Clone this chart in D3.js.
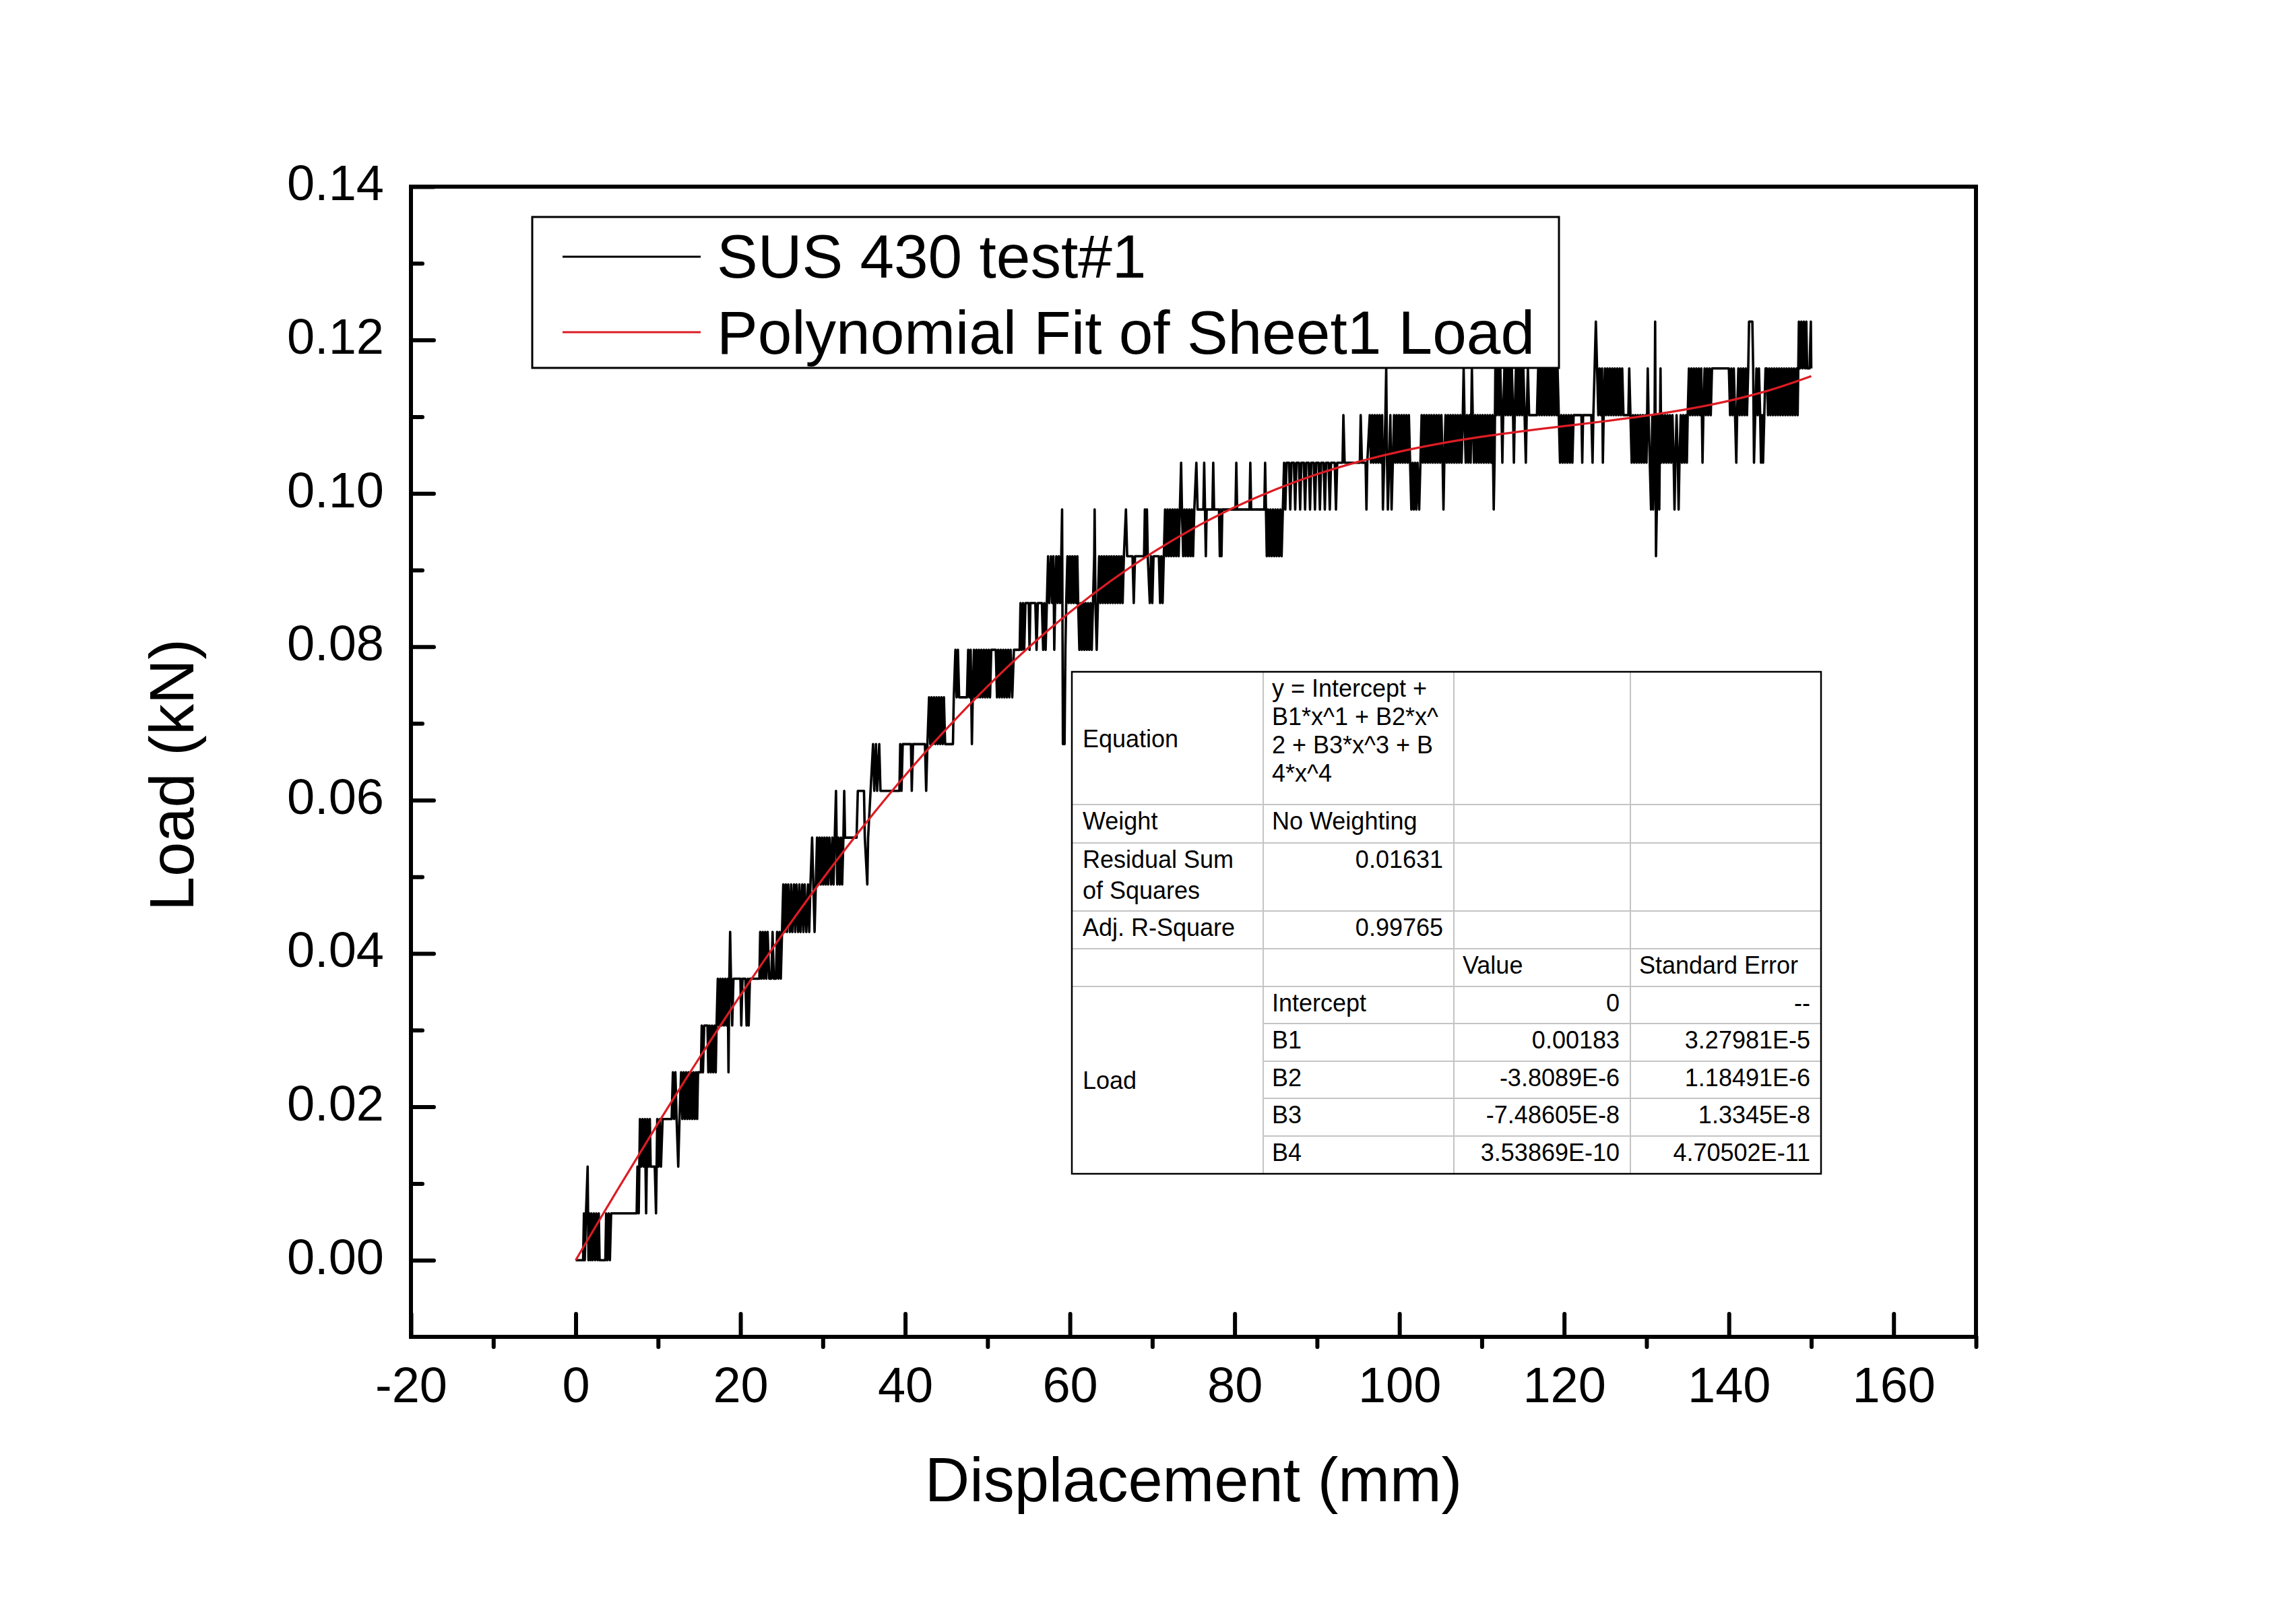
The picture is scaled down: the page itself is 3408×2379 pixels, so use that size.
<!DOCTYPE html>
<html><head><meta charset="utf-8">
<script src="https://cdn.jsdelivr.net/npm/d3@7"></script>
<style>html,body{margin:0;padding:0;background:#fff;}svg{display:block;}</style>
</head><body>
<svg id="chart" width="3408" height="2379"></svg>
<script>
// ---------------- data ----------------
const xDomain = [-20, 170];
const yDomain = [-0.01, 0.14];
const xMajorTicks = [-20, 0, 20, 40, 60, 80, 100, 120, 140, 160];
const xMinorTicks = [-10, 10, 30, 50, 70, 90, 110, 130, 150, 170];
const yMajorTicks = [0, 0.02, 0.04, 0.06, 0.08, 0.10, 0.12, 0.14];
const yMinorTicks = [0.01, 0.03, 0.05, 0.07, 0.09, 0.11, 0.13];
const xTitle = "Displacement (mm)";
const yTitle = "Load (kN)";
const legendLabels = ["SUS 430 test#1", "Polynomial Fit of Sheet1 Load"];

// polynomial fit curve (displacement mm, load kN)
const fitDisp = [0,5,10,15,20,25,30,35,40,45,50,55,60,65,70,75,80,85,90,95,100,105,110,115,120,125,130,135,140,145,150];
const fitLoad = [0,0.009046,0.017848,0.026358,0.034534,0.042338,0.049737,0.056706,0.063221,0.069266,0.074832,0.079911,0.084504,0.088616,0.092256,0.095440,0.098189,0.100529,0.102492,0.104114,0.105437,0.106510,0.107383,0.108116,0.108771,0.109418,0.110130,0.110986,0.112071,0.113474,0.115292];

// measured trace "SUS 430 test#1": [displacement mm, load N]
const loadTrace = [
[0,0],[0.9,0],[1.0,6.1],[1.1,0],[1.25,6.1],[1.45,12.2],[1.55,0],[1.65,6.1],[1.8,0],[1.9,6.1],[2.05,0],[2.2,6.1],[2.35,0],[2.5,6.1],[2.65,0],[2.8,6.1],[2.9,0],[3.6,0],[3.7,6.1],[3.85,0],[4.0,6.1],[4.15,0],[4.3,6.1],[7.4,6.1],
[7.5,12.2],[7.65,6.1],[7.8,18.4],[7.95,12.2],[8.1,18.4],[8.25,12.2],[8.4,18.4],[8.55,6.1],[8.7,18.4],[8.85,12.2],[9.0,18.4],[9.1,12.2],[9.6,12.2],[9.75,6.1],[9.9,18.4],[10.05,12.2],[10.2,18.4],[10.35,12.2],[10.55,18.4],[11.65,18.4],
[11.8,24.5],[11.95,18.4],[12.1,24.5],[12.25,18.4],[12.45,12.2],[12.6,18.4],[12.8,24.5],[12.95,18.4],[13.1,24.5],[13.25,18.4],[13.4,24.5],[13.55,18.4],[13.7,24.5],[13.85,18.4],[14.0,24.5],[14.15,18.4],[14.3,24.5],[14.45,18.4],[14.6,24.5],[14.75,18.4],[14.85,24.5],[15.2,24.5],
[15.3,30.6],[15.45,24.5],[15.6,30.6],[16.0,30.6],[16.1,24.5],[16.25,30.6],[16.4,24.5],[16.55,30.6],[16.7,24.5],[16.85,30.6],[17.0,24.5],[17.1,30.6],
[17.25,36.7],[17.4,30.6],[17.55,36.7],[17.7,30.6],[17.85,36.7],[18.0,30.6],[18.15,36.7],[18.3,30.6],[18.45,36.7],[18.55,24.5],[18.65,36.7],[18.75,42.8],[18.85,36.7],[19.0,30.6],[19.15,36.7],[20.0,36.7],
[20.1,30.6],[20.25,36.7],[20.6,36.7],[20.75,30.6],[20.9,36.7],[21.0,30.6],[21.15,36.7],[22.3,36.7],
[22.4,42.8],[22.55,36.7],[22.7,42.8],[22.85,36.7],[23.0,42.8],[23.15,36.7],[23.3,42.8],[23.5,36.7],[23.75,36.7],[23.9,42.8],[24.05,36.7],[24.3,36.7],[24.45,42.8],[24.6,36.7],[24.75,42.8],[24.9,36.7],[25.05,42.8],
[25.2,49],[25.35,42.8],[25.5,49],[25.65,42.8],[25.8,49],[26.0,42.8],[26.15,49],[26.3,42.8],[26.5,49],[26.65,42.8],[26.8,49],[27.0,42.8],[27.15,49],[27.3,42.8],[27.5,49],[27.65,42.8],[27.8,49],[28.0,42.8],[28.2,49],[28.35,42.8],[28.5,49],
[28.7,55.1],[28.85,49],[29.0,42.8],[29.15,49],[29.3,55.1],[29.45,49],[29.6,55.1],[29.75,49],[29.9,55.1],[30.05,49],[30.2,55.1],[30.35,49],[30.5,55.1],[30.65,49],[30.8,55.1],[31.0,49],[31.15,55.1],[31.3,49],[31.45,55.1],[31.6,61.2],[31.75,49],[31.9,55.1],[32.05,49],[32.2,55.1],[32.35,49],[32.5,55.1],[32.6,61.2],[32.7,55.1],[34.1,55.1],
[34.25,61.2],[35.0,61.2],[35.1,55.1],[35.4,49],[35.5,55.1],[35.8,61.2],[36.1,67.3],[36.25,61.2],[36.45,67.3],[36.6,61.2],[36.85,67.3],[37.0,61.2],[39.3,61.2],
[39.4,67.3],[39.55,61.2],[39.7,67.3],[40.7,67.3],[40.8,61.2],[40.95,67.3],[42.4,67.3],[42.55,61.2],[42.7,67.3],
[42.9,73.4],[43.05,67.3],[43.2,73.4],[43.35,67.3],[43.5,73.4],[43.65,67.3],[43.8,73.4],[43.95,67.3],[44.1,73.4],[44.25,67.3],[44.4,73.4],[44.55,67.3],[44.7,73.4],[44.85,67.3],[45.8,67.3],[45.9,73.4],
[46.1,79.6],[46.25,73.4],[46.4,79.6],[46.55,73.4],[47.5,73.4],[47.65,79.6],[47.8,73.4],[47.95,79.6],[48.1,67.3],[48.2,73.4],[48.35,79.6],[48.5,73.4],[48.65,79.6],[48.8,73.4],[48.95,79.6],[49.1,73.4],[49.25,79.6],[49.4,73.4],[49.55,79.6],[49.7,73.4],[49.85,79.6],[50.0,73.4],[50.15,79.6],[50.3,73.4],[50.45,79.6],[51.0,79.6],[51.15,73.4],[51.3,79.6],[51.45,73.4],[51.6,79.6],[51.75,73.4],[51.9,79.6],[52.05,73.4],[52.2,79.6],[52.35,73.4],[52.5,79.6],[52.65,73.4],[52.8,79.6],[53.0,73.4],[53.2,79.6],[53.9,79.6],
[54.0,85.7],[54.15,79.6],[54.3,85.7],[54.45,79.6],[54.6,85.7],[55.0,85.7],[55.1,79.6],[55.2,85.7],[55.8,85.7],[55.95,79.6],[56.1,85.7],[56.6,85.7],[56.75,79.6],[56.9,85.7],[57.05,79.6],[57.2,85.7],[57.35,91.8],[57.5,85.7],
[57.7,91.8],[57.85,85.7],[58.0,91.8],[58.1,79.6],[58.2,85.7],[58.35,91.8],[58.5,85.7],[58.65,91.8],[58.8,85.7],[58.95,91.8],[59.05,97.9],[59.15,67.3],[59.25,73.4],[59.35,67.3],[59.45,79.6],[59.55,85.7],
[59.7,91.8],[59.85,85.7],[60.0,91.8],[60.15,85.7],[60.3,91.8],[60.45,85.7],[60.6,91.8],[60.75,85.7],[60.9,91.8],[61.0,85.7],
[61.15,79.6],[61.3,85.7],[61.45,79.6],[61.6,85.7],[61.75,79.6],[61.9,85.7],[62.05,79.6],[62.2,85.7],[62.35,79.6],[62.5,85.7],[62.65,79.6],[62.8,85.7],[62.95,91.8],[63.0,97.9],[63.1,85.7],[63.25,79.6],[63.4,85.7],
[63.55,91.8],[63.7,85.7],[63.85,91.8],[64.0,85.7],[64.15,91.8],[64.3,85.7],[64.45,91.8],[64.6,85.7],[64.75,91.8],[64.9,85.7],[65.05,91.8],[65.2,85.7],[65.35,91.8],[65.5,85.7],[65.65,91.8],[65.8,85.7],[65.95,91.8],[66.1,85.7],[66.25,91.8],[66.4,85.7],[66.55,91.8],[66.8,97.9],[66.95,91.8],
[67.6,91.8],[67.75,85.7],[67.9,91.8],[69.0,91.8],[69.1,97.9],[69.2,91.8],[69.35,97.9],[69.45,91.8],
[69.7,85.7],[69.85,91.8],[70.0,85.7],[70.15,91.8],[70.8,91.8],[70.95,85.7],[71.1,91.8],[71.25,85.7],[71.4,91.8],
[71.55,97.9],[71.7,91.8],[71.85,97.9],[72.0,91.8],[72.15,97.9],[72.3,91.8],[72.45,97.9],[72.6,91.8],[72.75,97.9],[72.9,91.8],[73.05,97.9],[73.2,91.8],[73.35,97.9],[73.5,104],[73.6,97.9],[73.75,91.8],[73.9,97.9],[74.05,91.8],[74.2,97.9],[74.35,91.8],[74.5,97.9],[74.65,91.8],[74.8,97.9],[74.95,91.8],[75.1,97.9],
[75.35,104],[75.5,97.9],[76.2,97.9],[76.3,104],[76.4,97.9],[76.5,91.8],[76.6,97.9],[77.3,97.9],[77.4,104],[77.5,97.9],[78.1,97.9],[78.2,91.8],[78.3,97.9],[78.4,91.8],[78.5,97.9],
[80.1,97.9],[80.2,104],[80.3,97.9],[81.8,97.9],[81.9,104],[82.0,97.9],[83.6,97.9],[83.7,104],[83.8,97.9],
[83.9,91.8],[84.05,97.9],[84.2,91.8],[84.35,97.9],[84.5,91.8],[84.65,97.9],[84.8,91.8],[84.95,97.9],[85.1,91.8],[85.25,97.9],[85.4,91.8],[85.55,97.9],[85.7,91.8],[85.85,97.9],
[86.0,104],[86.15,97.9],[86.3,104],[86.6,104],[86.75,97.9],[86.9,104],[87.2,104],[87.35,97.9],[87.5,104],[87.8,104],[87.95,97.9],[88.1,104],[88.4,104],[88.55,97.9],[88.7,104],[89.0,104],[89.15,97.9],[89.3,104],[89.6,104],[89.75,97.9],[89.9,104],[90.2,104],[90.35,97.9],[90.5,104],[90.8,104],[90.95,97.9],[91.1,104],[91.4,104],[91.55,97.9],[91.7,104],[92.15,104],[92.3,97.9],[92.45,104],
[93.1,104],[93.2,110.2],[93.35,104],[95.2,104],[95.3,110.2],[95.45,104],[95.9,104],[96.0,97.9],[96.1,104],
[96.4,110.2],[96.55,104],[96.7,110.2],[96.85,104],[97.0,110.2],[97.15,104],[97.3,110.2],[97.45,104],[97.6,110.2],[97.75,104],[97.9,110.2],
[98.0,97.9],[98.15,104],[98.3,110.2],[98.4,116.3],[98.5,104],[98.6,97.9],[98.75,104],[98.9,110.2],[99.05,97.9],[99.2,104],[99.35,110.2],
[99.5,104],[99.65,110.2],[99.8,104],[99.95,110.2],[100.1,104],[100.25,110.2],[100.4,104],[100.55,110.2],[100.7,104],[100.85,110.2],[101.0,104],[101.15,110.2],[101.3,104],
[101.45,97.9],[101.6,104],[101.75,97.9],[101.9,104],[102.05,97.9],[102.2,104],[102.4,97.9],[102.55,104],
[102.7,110.2],[102.85,104],[103.0,110.2],[103.15,104],[103.3,110.2],[103.45,104],[103.6,110.2],[103.75,104],[103.9,110.2],[104.05,104],[104.2,110.2],[104.35,104],[104.5,110.2],[104.65,104],[104.8,110.2],[104.95,104],[105.1,110.2],[105.25,104],[105.35,97.9],[105.45,104],
[105.6,110.2],[105.75,104],[105.9,110.2],[106.05,104],[106.2,110.2],[106.35,104],[106.5,110.2],[106.65,104],[106.8,110.2],[106.95,104],[107.1,110.2],[107.25,104],[107.4,110.2],[107.55,104],[107.7,110.2],[107.8,116.3],[107.9,110.2],
[108.05,104],[108.2,110.2],[108.35,104],[108.5,110.2],[108.65,104],[108.8,116.3],[108.9,110.2],[109.05,104],[109.2,110.2],[109.35,104],[109.5,110.2],[109.65,104],[109.8,110.2],[109.95,104],[110.1,110.2],[110.25,104],[110.4,110.2],[110.55,104],[110.7,110.2],[110.85,104],[111.0,110.2],[111.15,104],[111.3,110.2],[111.45,97.9],[111.55,104],
[111.65,116.3],[111.8,110.2],[111.95,116.3],[112.1,110.2],[112.25,116.3],[112.4,110.2],[112.5,104],[112.6,110.2],[112.75,116.3],[112.9,110.2],[113.05,116.3],[113.2,110.2],[113.35,116.3],[113.5,110.2],[113.65,116.3],[113.8,110.2],[113.9,104],[114.0,110.2],[114.15,116.3],[114.3,110.2],[114.45,116.3],[114.6,110.2],[114.75,116.3],[114.9,110.2],[115.05,116.3],[115.2,110.2],[115.35,104],[115.45,110.2],[115.6,116.3],[115.75,110.2],[116.7,110.2],[116.85,116.3],[117.0,110.2],[117.15,116.3],[117.3,110.2],[117.45,116.3],[117.6,110.2],[117.75,116.3],[117.9,110.2],[118.05,116.3],[118.2,110.2],[118.35,116.3],[118.5,110.2],[118.65,116.3],[118.8,110.2],[118.95,116.3],[119.1,110.2],[119.2,116.3],
[119.35,110.2],[119.5,104],[119.65,110.2],[119.8,104],[119.95,110.2],[120.1,104],[120.25,110.2],[120.4,104],[120.55,110.2],[120.7,104],[120.85,110.2],[121.0,104],[121.15,110.2],[122.1,110.2],[122.2,104],[122.3,110.2],[123.3,110.2],[123.45,104],[123.55,110.2],
[123.7,116.3],[123.85,122.4],[124.0,116.3],[124.15,110.2],[124.3,116.3],[124.45,110.2],[124.6,116.3],[124.7,104],[124.8,110.2],[124.95,116.3],[125.1,110.2],[125.25,116.3],[125.4,110.2],[125.55,116.3],[125.7,110.2],[125.85,116.3],[126.0,110.2],[126.15,116.3],[126.3,110.2],[126.45,116.3],[126.6,110.2],[126.75,116.3],[126.9,110.2],[127.05,116.3],[127.2,110.2],
[127.8,110.2],[127.9,116.3],[128.05,110.2],[128.2,104],[128.35,110.2],[128.5,104],[128.65,110.2],[128.8,104],[128.95,110.2],[129.1,104],[129.25,110.2],[129.4,104],[129.55,110.2],[129.7,104],[129.85,110.2],[130.0,104],[130.15,116.3],[130.25,110.2],
[130.4,104],[130.55,97.9],[130.7,110.2],[130.8,97.9],[130.95,104],[131.05,122.4],[131.15,91.8],[131.25,97.9],[131.35,110.2],[131.45,104],[131.55,97.9],[131.7,116.3],[131.8,104],[131.95,110.2],
[132.1,104],[132.25,110.2],[132.4,104],[132.55,110.2],[132.7,104],[132.85,110.2],[133.0,104],[133.15,110.2],[133.3,104],[133.4,97.9],[133.5,104],[133.65,110.2],[133.8,104],[133.9,97.9],[134.0,104],[134.15,110.2],[134.3,104],[134.45,110.2],[134.6,104],[134.75,110.2],[134.9,104],[135.0,110.2],
[135.15,116.3],[135.3,110.2],[135.45,116.3],[135.6,110.2],[135.75,116.3],[135.9,110.2],[136.05,116.3],[136.2,110.2],[136.35,116.3],[136.5,110.2],[136.65,116.3],[136.8,104],[136.9,110.2],[137.05,116.3],[137.2,110.2],[137.35,116.3],[137.5,110.2],[137.65,116.3],[137.8,110.2],[137.95,116.3],[140.0,116.3],
[140.15,110.2],[140.3,116.3],[140.45,110.2],[140.6,116.3],[140.75,110.2],[140.9,104],[141.0,110.2],[141.15,116.3],[141.3,110.2],[141.45,116.3],[141.6,110.2],[141.75,116.3],[141.9,110.2],[142.05,116.3],[142.2,110.2],
[142.35,116.3],[142.45,122.4],[142.85,122.4],[142.95,116.3],[143.05,104],[143.2,110.2],[143.35,116.3],[143.5,110.2],[143.65,116.3],[143.8,110.2],[143.9,104],[144.05,110.2],[144.15,104],[144.3,110.2],[144.45,116.3],
[144.6,116.3],[144.75,110.2],[144.9,116.3],[145.05,110.2],[145.2,116.3],[145.35,110.2],[145.5,116.3],[145.65,110.2],[145.8,116.3],[145.95,110.2],[146.1,116.3],[146.25,110.2],[146.4,116.3],[146.55,110.2],[146.7,116.3],[146.85,110.2],[147.0,116.3],[147.15,110.2],[147.3,116.3],[147.45,110.2],[147.6,116.3],[147.75,110.2],[147.9,116.3],[148.05,110.2],[148.2,116.3],[148.35,110.2],
[148.5,122.4],[148.65,116.3],[148.8,122.4],[148.95,116.3],[149.1,122.4],[149.25,116.3],[149.4,122.4],[149.5,116.3],[149.8,116.3],[149.95,122.4],[150.0,116.3]
];

// fit report table
const equationLines = ["y = Intercept +", "B1*x^1 + B2*x^", "2 + B3*x^3 + B", "4*x^4"];
const weightText = "No Weighting";
const residualSS = "0.01631";
const adjRSquare = "0.99765";
const paramNames = ["Intercept", "B1", "B2", "B3", "B4"];
const paramValues = ["0", "0.00183", "-3.8089E-6", "-7.48605E-8", "3.53869E-10"];
const paramErrors = ["--", "3.27981E-5", "1.18491E-6", "1.3345E-8", "4.70502E-11"];

// ---------------- drawing ----------------
const FONT = "'Liberation Sans', Arial, Helvetica, sans-serif";
const RED = "#dc1c24";
const svg = d3.select("#chart").attr("font-family", FONT);
svg.append("rect").attr("width", 3408).attr("height", 2379).attr("fill", "#fff");

const x = d3.scaleLinear().domain(xDomain).range([610, 2933]);
const y = d3.scaleLinear().domain(yDomain).range([1984, 277]);

// measured trace
svg.append("path").datum(loadTrace)
  .attr("d", d3.line().x(d => x(d[0])).y(d => y(d[1] / 1000)))
  .attr("fill", "none").attr("stroke", "#000").attr("stroke-width", 3.6)
  .attr("stroke-linejoin", "round");

// fit curve
const fitPts = fitDisp.map((d, i) => [d, fitLoad[i]]);
svg.append("path").datum(fitPts)
  .attr("d", d3.line().curve(d3.curveCatmullRom).x(d => x(d[0])).y(d => y(d[1])))
  .attr("fill", "none").attr("stroke", RED).attr("stroke-width", 3.2);

// axes
function styleAxis(g) {
  g.select(".domain").remove();
  g.attr("font-family", FONT).attr("font-size", 74);
  g.selectAll(".tick line").attr("stroke", "#000").attr("stroke-width", 6).attr("stroke-linecap", "round");
  g.selectAll(".tick text").attr("fill", "#000");
}
const x0 = x(xDomain[0]), yB = y(yDomain[0]);
const gy = svg.append("g").attr("transform", `translate(${x0},0)`)
  .call(d3.axisLeft(y).tickValues(yMajorTicks).tickSize(-34).tickSizeOuter(0).tickPadding(40).tickFormat(d3.format(".2f")));
styleAxis(gy);
gy.selectAll(".tick text").attr("dy", "0.27em");
const gym = svg.append("g").attr("transform", `translate(${x0},0)`)
  .call(d3.axisLeft(y).tickValues(yMinorTicks).tickSize(-17).tickSizeOuter(0).tickFormat(""));
styleAxis(gym);

const gx = svg.append("g").attr("transform", `translate(0,${yB})`)
  .call(d3.axisBottom(x).tickValues(xMajorTicks).tickSize(-34).tickSizeOuter(0).tickPadding(44).tickFormat(d => String(d)));
styleAxis(gx);
const gxm = svg.append("g").attr("transform", `translate(0,${yB})`)
  .call(d3.axisBottom(x).tickValues(xMinorTicks).tickSize(15).tickSizeOuter(0).tickFormat(""));
styleAxis(gxm);

// frame
svg.append("rect")
  .attr("x", x(xDomain[0])).attr("y", y(yDomain[1]))
  .attr("width", x(xDomain[1]) - x(xDomain[0])).attr("height", y(yDomain[0]) - y(yDomain[1]))
  .attr("fill", "none").attr("stroke", "#000").attr("stroke-width", 6);

// axis titles
svg.append("text").text(xTitle)
  .attr("x", (x(xDomain[0]) + x(xDomain[1])) / 2).attr("y", 2228)
  .attr("text-anchor", "middle").attr("font-size", 92).attr("fill", "#000");
svg.append("text").text(yTitle)
  .attr("transform", "translate(287,1150) rotate(-90)")
  .attr("text-anchor", "middle").attr("font-size", 92).attr("fill", "#000");

// legend
const lg = svg.append("g");
lg.append("rect").attr("x", 790).attr("y", 322).attr("width", 1524).attr("height", 224)
  .attr("fill", "#fff").attr("stroke", "#000").attr("stroke-width", 3);
const legendColors = ["#000", RED];
const legendLineY = [381, 493];
const legendTextY = [412, 525];
legendLabels.forEach((lab, i) => {
  lg.append("line").attr("x1", 835).attr("x2", 1040).attr("y1", legendLineY[i]).attr("y2", legendLineY[i])
    .attr("stroke", legendColors[i]).attr("stroke-width", 3);
  lg.append("text").text(lab).attr("x", 1064).attr("y", legendTextY[i])
    .attr("font-size", 91).attr("fill", "#000");
});

// fit table
const colX = [1591, 1875, 2158, 2420, 2703];
const rowY = [997, 1194, 1251, 1352, 1408, 1464, 1519, 1575, 1630, 1686, 1742];
const tg = svg.append("g").attr("font-size", 36).attr("fill", "#000");
tg.append("rect").attr("x", colX[0]).attr("y", rowY[0])
  .attr("width", colX[4] - colX[0]).attr("height", rowY[10] - rowY[0]).attr("fill", "#fff");
const GRAY = "#c4c4c4";
[1, 2, 3].forEach(c => tg.append("line").attr("x1", colX[c]).attr("x2", colX[c])
  .attr("y1", rowY[0]).attr("y2", rowY[10]).attr("stroke", GRAY).attr("stroke-width", 2));
[1, 2, 3, 4, 5].forEach(r => tg.append("line").attr("x1", colX[0]).attr("x2", colX[4])
  .attr("y1", rowY[r]).attr("y2", rowY[r]).attr("stroke", GRAY).attr("stroke-width", 2));
[6, 7, 8, 9].forEach(r => tg.append("line").attr("x1", colX[1]).attr("x2", colX[4])
  .attr("y1", rowY[r]).attr("y2", rowY[r]).attr("stroke", GRAY).attr("stroke-width", 2));
tg.append("rect").attr("x", colX[0]).attr("y", rowY[0])
  .attr("width", colX[4] - colX[0]).attr("height", rowY[10] - rowY[0])
  .attr("fill", "none").attr("stroke", "#000").attr("stroke-width", 2.5);

const PAD = 13, BL = 37;
function cellL(t, c, yb) { tg.append("text").text(t).attr("x", colX[c] + (c === 0 ? 16 : PAD)).attr("y", yb); }
function cellR(t, c, yb) { tg.append("text").text(t).attr("x", colX[c + 1] - 16).attr("y", yb).attr("text-anchor", "end"); }

cellL("Equation", 0, (rowY[0] + rowY[1]) / 2 + 13);
equationLines.forEach((t, i) => cellL(t, 1, rowY[0] + BL + i * 42));
cellL("Weight", 0, rowY[1] + BL);
cellL(weightText, 1, rowY[1] + BL);
cellL("Residual Sum", 0, rowY[2] + BL);
cellL("of Squares", 0, rowY[2] + BL + 46);
cellR(residualSS, 1, rowY[2] + BL);
cellL("Adj. R-Square", 0, rowY[3] + BL);
cellR(adjRSquare, 1, rowY[3] + BL);
cellL("Value", 2, rowY[4] + BL);
cellL("Standard Error", 3, rowY[4] + BL);
cellL("Load", 0, (rowY[5] + rowY[10]) / 2 + 13);
paramNames.forEach((n, i) => {
  cellL(n, 1, rowY[5 + i] + BL);
  cellR(paramValues[i], 2, rowY[5 + i] + BL);
  cellR(paramErrors[i], 3, rowY[5 + i] + BL);
});
</script>
</body></html>
